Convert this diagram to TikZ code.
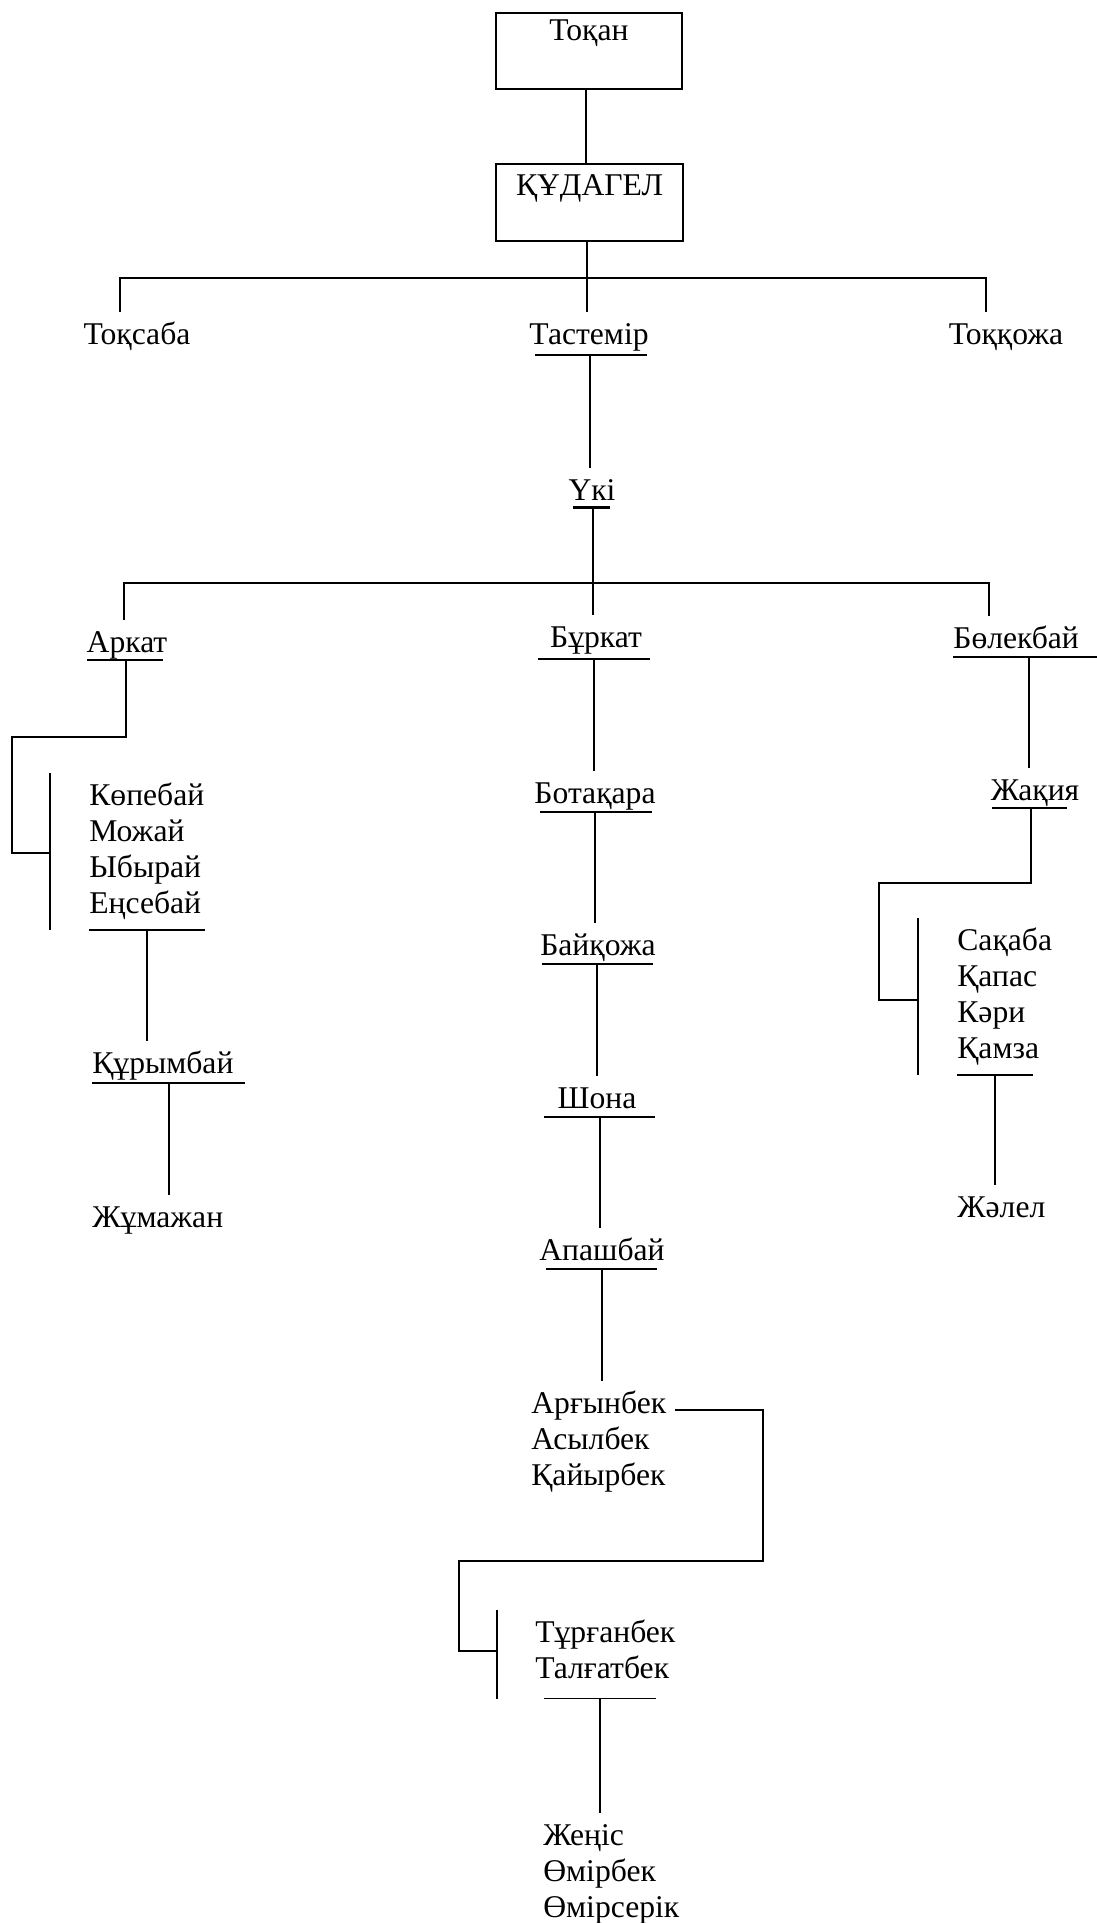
\documentclass[tikz,border=0pt]{standalone}
\usepackage{fontspec}
\setmainfont{Liberation Serif}
\usepackage{tikz}
\usetikzlibrary{positioning}
\newdimen\pxu \pxu=0.2mm
\newcommand*{\uline}[3]{\draw [link] (#2,0 |- #1.south) -- (#3,0 |- #1.south);}
\tikzset{
  nm/.style={inner sep=0pt, font=\fontsize{18}{20}\selectfont, text height=31.6\pxu, text depth=9\pxu},
  nmb/.style={nm, text height=26.5\pxu},
  box/.style={draw, line width=1.3pt, inner sep=0pt, font=\fontsize{18}{20}\selectfont},
  link/.style={line width=1pt},
}

\begin{document}
\begin{tikzpicture}[x=0.2mm, y=0.2mm]
\useasboundingbox (0,0) rectangle (1097,-1923);

%Top boxes
\node [box, minimum width=186\pxu, text height=27\pxu, text depth=49\pxu, anchor=north] (tokan) at (589,-12) {Тоқан};
\node [box, minimum width=187\pxu, text height=31\pxu, text depth=46\pxu, anchor=north] (kudagel) at (589.5,-163) {ҚҰДАГЕЛ};
\draw [link] (tokan.south -| 586,0) -- (kudagel.north -| 586,0);

%Sons of Kudagel
\node [nm, anchor=base] (toksaba) at (137,-344) {Тоқсаба};
\node [nm, anchor=base, text depth=11\pxu] (tastemir) at (589,-344) {Тастемір};
\node [nm, anchor=base] (tokkozha) at (1006,-344) {Тоққожа};
\uline{tastemir}{535}{647}
\coordinate (fork1) at (587,-278);
\draw [link] (kudagel.south -| 587,0) -- (tastemir.north -| 587,0);
\draw [link] (toksaba.north -| 120,0) |- (fork1) -| (tokkozha.north -| 986,0);

\node [nm, anchor=base, text depth=7\pxu] (uki) at (592,-500) {Үкі};
\draw [line width=1.6pt] (573,0 |- uki.south) -- (610,0 |- uki.south);
\draw [link] (tastemir.south -| 590,0) -- (uki.north -| 590,0);

%Sons of Uki
\node [nm, anchor=base, text depth=8\pxu] (arkat) at (127,-652) {Аркат};
\node [nm, anchor=base, text depth=12\pxu] (burkat) at (596,-647) {Бұркат};
\node [nm, anchor=base west] (bolek) at (953,-648) {Бөлекбай};
\uline{arkat}{87}{163}
\uline{burkat}{538}{650}
\uline{bolek}{953}{1097}
\coordinate (fork2) at (593,-583);
\draw [link] (uki.south -| 593,0) -- (burkat.north -| 593,0);
\draw [link] (arkat.north -| 124,0) |- (fork2) -| (bolek.north -| 989,0);

%Left branch
\node [nm, anchor=base west] (kopebay) at (89,-805) {Көпебай};
\node [nmb, below=0pt of kopebay.south west, anchor=north west] (mozhay) {Можай};
\node [nmb, below=0pt of mozhay.south west, anchor=north west] (ybyray) {Ыбырай};
\node [nmb, below=0pt of ybyray.south west, anchor=north west, text depth=16\pxu] (ensebay) {Еңсебай};
\uline{ensebay}{89}{205}
\draw [link] (kopebay.north -| 50,0) -- (ensebay.south -| 50,0);
\coordinate (barA) at (50,-853);
\draw [link] (arkat.south -| 126,0) |- (12,-737) |- (barA);

\node [nm, anchor=base west, text depth=10\pxu] (kurym) at (92,-1073) {Құрымбай};
\uline{kurym}{92}{245}
\draw [link] (ensebay.south -| 147,0) -- (kurym.north -| 147,0);
\node [nm, anchor=base west] (zhumazhan) at (92,-1227) {Жұмажан};
\draw [link] (kurym.south -| 169,0) -- (zhumazhan.north -| 169,0);

%Middle branch
\node [nm, anchor=base] (botakara) at (595,-803) {Ботақара};
\node [nm, anchor=base] (baikozha) at (598,-955) {Байқожа};
\node [nm, anchor=base] (shona) at (597,-1108) {Шона};
\node [nm, anchor=base] (apashbay) at (602,-1260) {Апашбай};
\uline{botakara}{540}{652}
\uline{baikozha}{542}{653}
\uline{shona}{544}{655}
\uline{apashbay}{546}{657}

\node [nm, anchor=base west] (argyn) at (531,-1413) {Арғынбек};
\node [nmb, below=0pt of argyn.south west, anchor=north west] (asyl) {Асылбек};
\node [nmb, below=0pt of asyl.south west, anchor=north west] (kaiyr) {Қайырбек};

\foreach \a/\b/\x in {burkat/botakara/594, botakara/baikozha/595, baikozha/shona/597, shona/apashbay/600, apashbay/argyn/602}
  \draw [link] (\a.south -| \x,0) -- (\b.north -| \x,0);

\node [nm, anchor=base west] (turgan) at (535,-1642) {Тұрғанбек};
\node [nmb, below=0pt of turgan.south west, anchor=north west, text depth=20\pxu] (talgat) {Талғатбек};
\uline{talgat}{544}{656}
\draw [link] (turgan.north -| 497,0) -- (talgat.south -| 497,0);
\coordinate (barT) at (497,-1651);
\draw [link] ([xshift=8\pxu,yshift=3\pxu]argyn.base east) -| (763,-1561) -| (459,-1651) -- (barT);

\node [nm, anchor=base west] (zhenis) at (543,-1845) {Жеңіс};
\node [nmb, below=0pt of zhenis.south west, anchor=north west] (omirbek) {Өмірбек};
\node [nmb, below=0pt of omirbek.south west, anchor=north west] (omirserik) {Өмірсерік};
\draw [link] (talgat.south -| 600,0) -- (zhenis.north -| 600,0);

%Right branch
\node [nm, anchor=base, text depth=8\pxu] (zhakiya) at (1035,-800) {Жақия};
\uline{zhakiya}{992}{1067}
\draw [link] (bolek.south -| 1029,0) -- (zhakiya.north -| 1029,0);

\node [nm, anchor=base west] (sakaba) at (957,-950) {Сақаба};
\node [nmb, below=0pt of sakaba.south west, anchor=north west] (kapas) {Қапас};
\node [nmb, below=0pt of kapas.south west, anchor=north west] (kari) {Кәри};
\node [nmb, below=0pt of kari.south west, anchor=north west, text depth=16\pxu] (kamza) {Қамза};
\uline{kamza}{957}{1033}
\draw [link] (sakaba.north -| 918,0) -- (kamza.south -| 918,0);
\coordinate (barS) at (918,-1000);
\draw [link] (zhakiya.south -| 1031,0) |- (879,-883) |- (barS);

\node [nm, anchor=base west] (zhalel) at (957,-1217) {Жәлел};
\draw [link] (kamza.south -| 995,0) -- (zhalel.north -| 995,0);
\end{tikzpicture}
\end{document}
